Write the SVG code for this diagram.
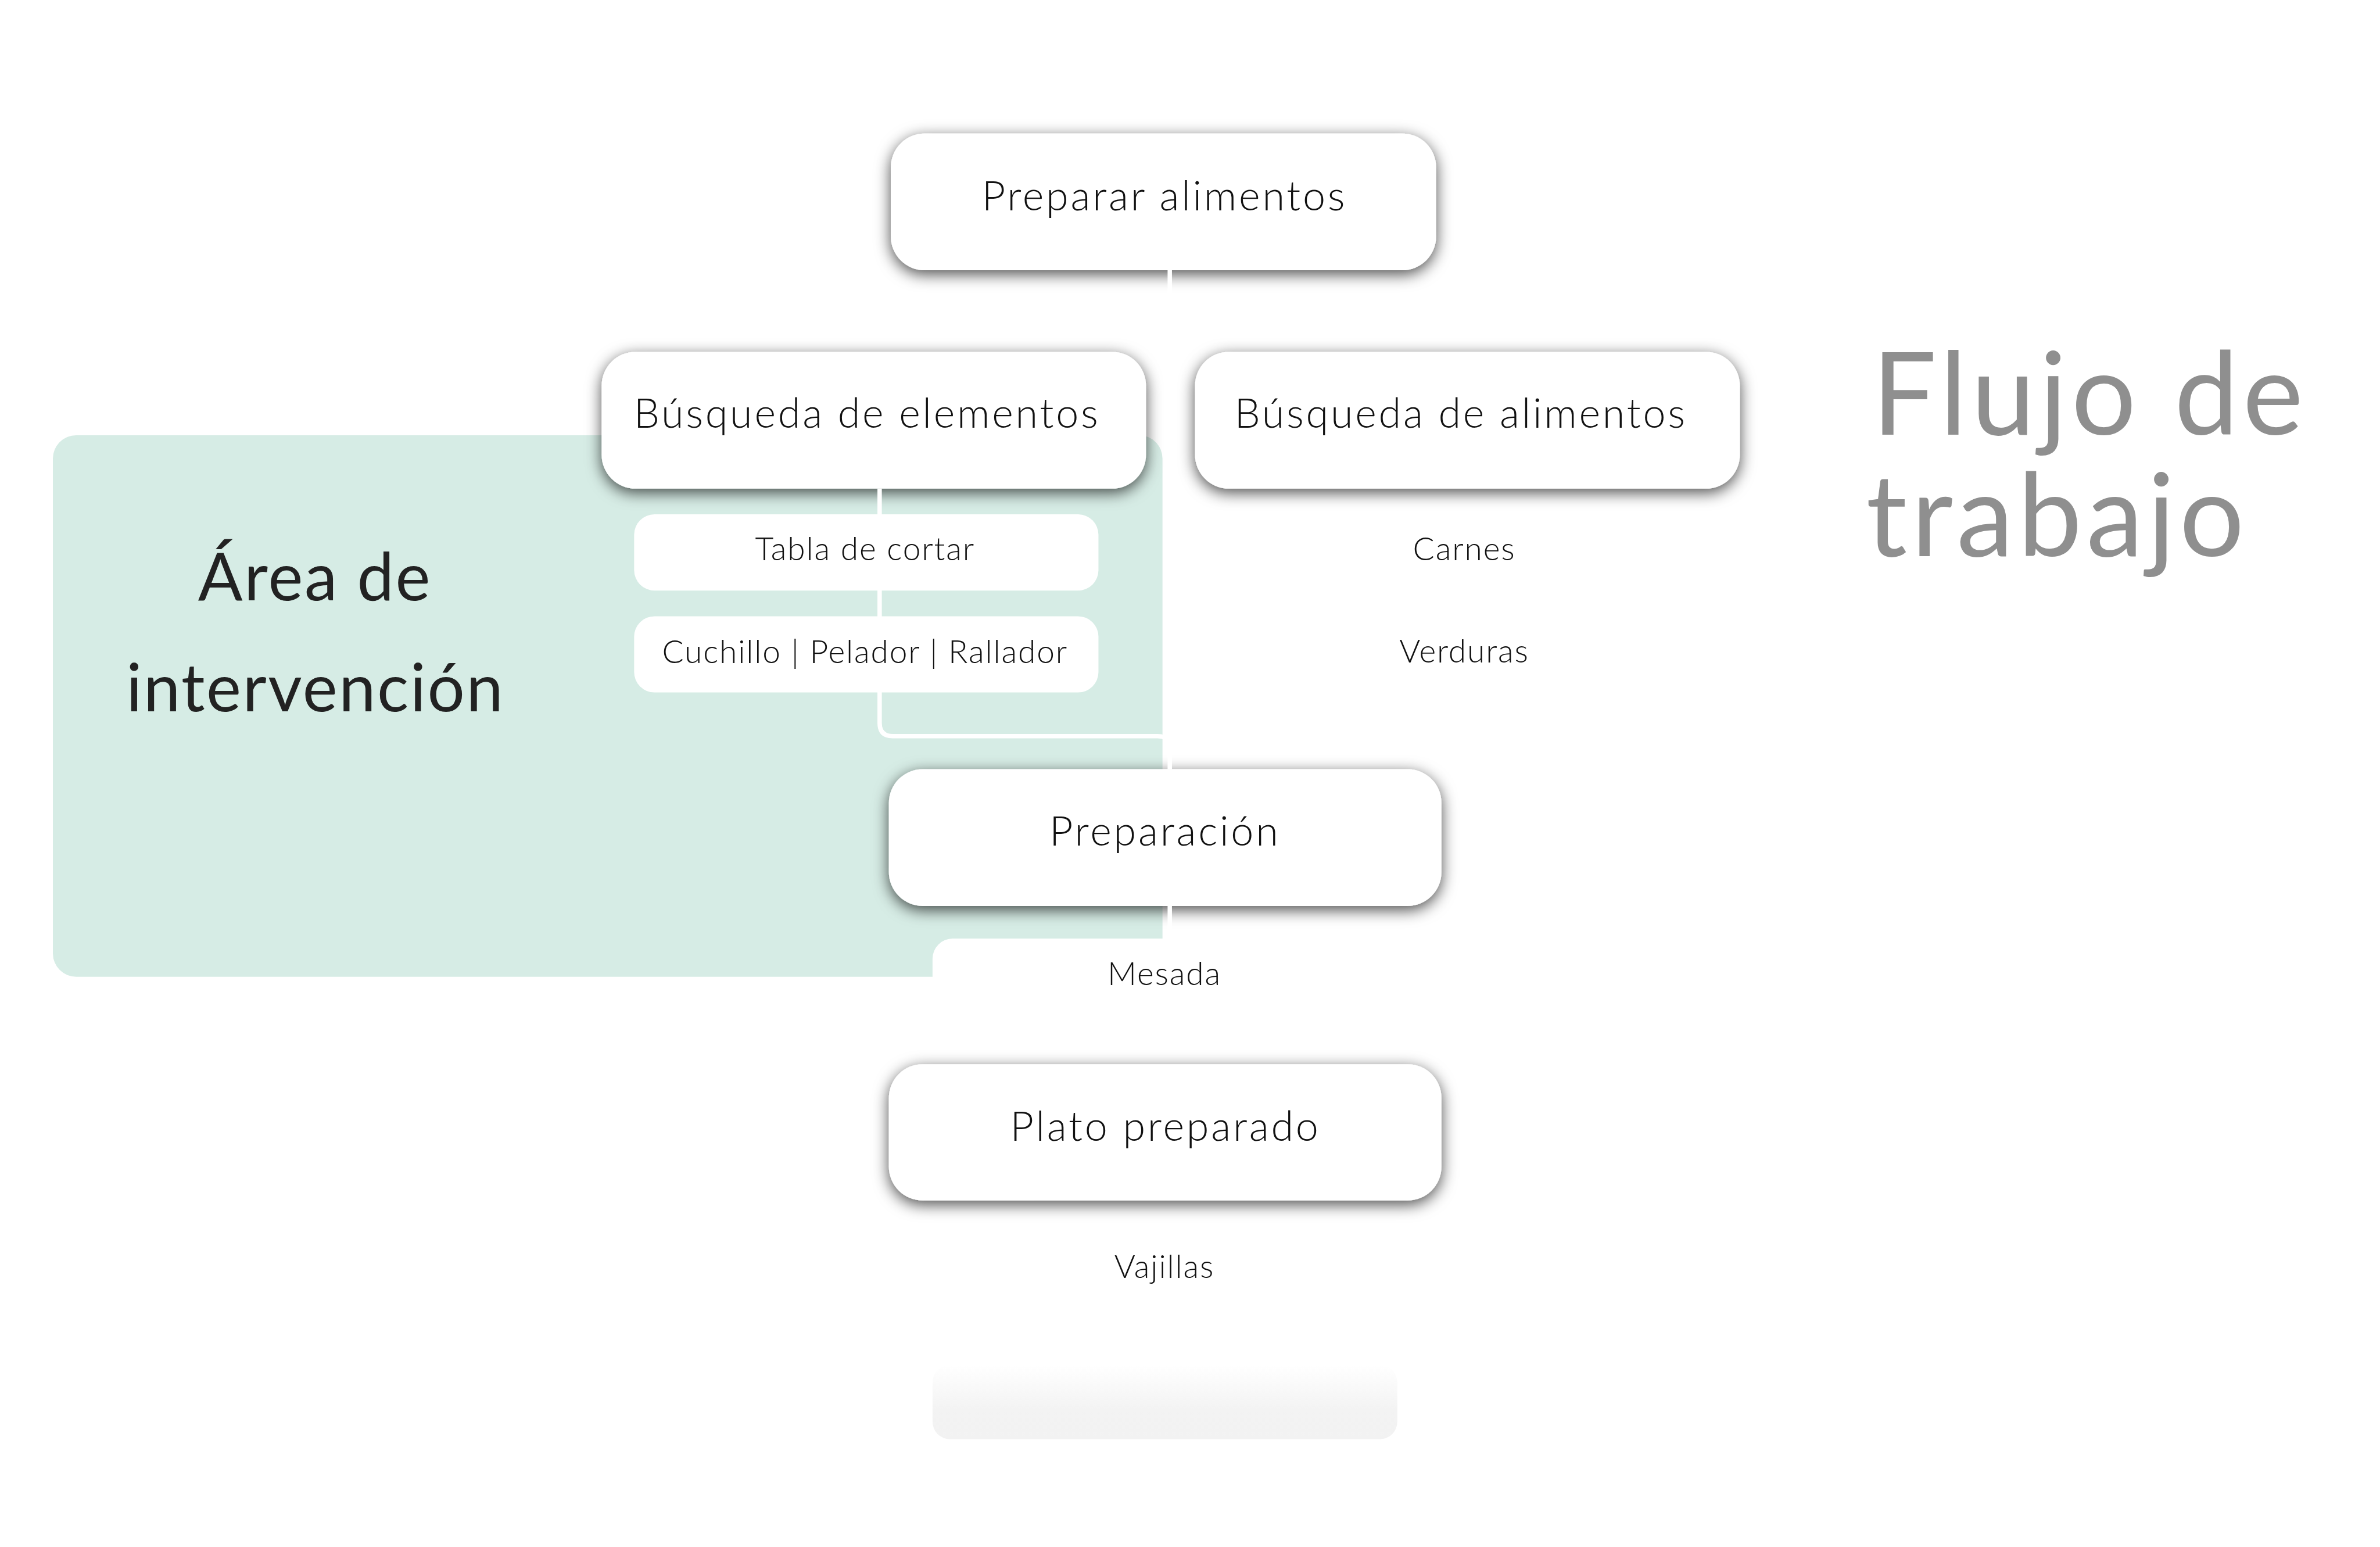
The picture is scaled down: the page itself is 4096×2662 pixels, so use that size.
<svg xmlns="http://www.w3.org/2000/svg" width="4096" height="2662" viewBox="0 0 4096 2662">
<defs>
<style>
.box{fill:#ffffff}
.lbl{font-family:'Lato Light',Lato,'Liberation Sans',sans-serif;font-weight:300;font-size:84px;letter-spacing:4.5px;fill:#111111;text-anchor:middle}
.sub{font-family:'Lato Light',Lato,'Liberation Sans',sans-serif;font-weight:300;font-size:66px;letter-spacing:2.2px;fill:#111111;text-anchor:middle}
.area{font-family:Lato,'Liberation Sans',sans-serif;font-weight:400;font-size:136px;letter-spacing:3px;fill:#222222;text-anchor:middle}
.title{font-family:Lato,'Liberation Sans',sans-serif;font-weight:400;font-size:236px;letter-spacing:9px;fill:#8f8f8f}
.conn{fill:none;stroke:#ffffff;stroke-width:9}
</style>
<filter id="sh" x="-10%" y="-40%" width="120%" height="180%">
<feGaussianBlur in="SourceAlpha" stdDeviation="16"/>
<feOffset dy="8" result="b"/>
<feFlood flood-color="#000000" flood-opacity="0.7"/>
<feComposite in2="b" operator="in"/>
<feMerge><feMergeNode/><feMergeNode in="SourceGraphic"/></feMerge>
</filter>
<linearGradient id="fade" x1="0" y1="0" x2="0" y2="1">
<stop offset="0" stop-color="#ffffff"/>
<stop offset="0.6" stop-color="#f3f3f3"/>
<stop offset="1" stop-color="#f2f2f2"/>
</linearGradient>
</defs>
<rect width="4096" height="2662" fill="#ffffff"/>
<g transform="scale(0.835)">
<g id="area-intervencion">
<rect x="109" y="897" width="2287" height="1116" rx="48" fill="#d6ece5"/>
<text class="area" x="649" y="1237">Área de</text>
<text class="area" x="650" y="1466">intervención</text>
</g>
<g id="titulo">
<text class="title" x="3858" y="896">Flujo de</text>
<text class="title" x="3846" y="1146">trabajo</text>
</g>
<g id="preparar-alimentos">
<rect class="box" x="1836" y="275" width="1124" height="282" rx="70" filter="url(#sh)"/>
<text class="lbl" x="2400" y="433">Preparar alimentos</text>
</g>
<g id="busqueda-elementos">
<rect class="box" x="1240" y="725" width="1122" height="282" rx="70" filter="url(#sh)"/>
<text class="lbl" x="1787" y="882">Búsqueda de elementos</text>
</g>
<g id="busqueda-alimentos">
<rect class="box" x="2463" y="725" width="1123" height="282" rx="70" filter="url(#sh)"/>
<text class="lbl" x="3011" y="882">Búsqueda de alimentos</text>
</g>
<g id="preparacion">
<rect class="box" x="1832" y="1585" width="1139" height="282" rx="70" filter="url(#sh)"/>
<text class="lbl" x="2401" y="1743">Preparación</text>
</g>
<g id="plato-preparado">
<rect class="box" x="1832" y="2193" width="1139" height="281" rx="70" filter="url(#sh)"/>
<text class="lbl" x="2402" y="2351">Plato preparado</text>
</g>
<g id="connectors">
<path class="conn" d="M2411 557 V726"/>
<path class="conn" d="M1813 1007 V1490 Q1813 1517 1840 1517 H2386 Q2411 1517 2411 1542 V1585"/>
<path class="conn" d="M2411 1867 V1934"/>
</g>
<g id="tabla-de-cortar">
<rect class="box" x="1307" y="1060" width="957" height="157" rx="42"/>
<text class="sub" x="1783" y="1155">Tabla de cortar</text>
</g>
<g id="cuchillo">
<rect class="box" x="1307" y="1270" width="957" height="157" rx="42"/>
<text class="sub" x="1783" y="1366">Cuchillo | Pelador | Rallador</text>
</g>
<g id="carnes">
<rect class="box" x="2540" y="1060" width="957" height="157" rx="42"/>
<text class="sub" x="3018" y="1155">Carnes</text>
</g>
<g id="verduras">
<rect class="box" x="2540" y="1270" width="957" height="157" rx="42"/>
<text class="sub" x="3018" y="1365">Verduras</text>
</g>
<g id="mesada">
<rect class="box" x="1922" y="1934" width="957" height="157" rx="42"/>
<text class="sub" x="2400" y="2030">Mesada</text>
</g>
<g id="vajillas">
<rect class="box" x="1922" y="2541" width="957" height="157" rx="42"/>
<text class="sub" x="2400" y="2634">Vajillas</text>
</g>
<g id="fade-box">
<rect x="1922" y="2813" width="958" height="153" rx="36" fill="url(#fade)"/>
</g>
</g>
</svg>
